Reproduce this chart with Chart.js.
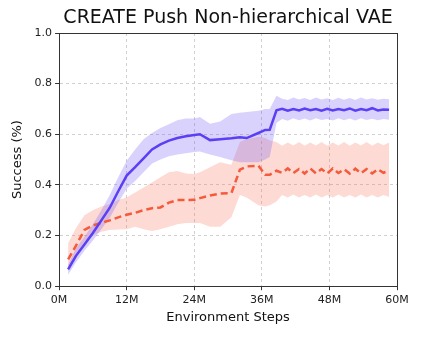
<!DOCTYPE html>
<html>
<head>
<meta charset="utf-8">
<script src="https://cdn.jsdelivr.net/npm/chart.js@4.4.0/dist/chart.umd.min.js"></script>
<style>
html,body{margin:0;padding:0;background:#fff;}
#wrap{width:422px;height:338px;position:relative;}
</style>
</head>
<body>
<div id="wrap"><canvas id="c" width="422" height="338"></canvas></div>
<script>
// Environment steps (millions)
const steps = [1.6, 3, 4.5, 6, 7.5, 9, 10.5, 12, 13.5, 15, 16.5, 18, 19.5, 21, 22.5, 24, 25, 26.8, 28.6, 30.6, 32.1, 33.3, 35.4, 36.6, 37.4, 38.6,
  39.6, 40.6, 41.6, 42.6, 43.6, 44.6, 45.6, 46.6, 47.6, 48.6, 49.6, 50.6, 51.6, 52.6, 53.6, 54.6, 55.6, 56.6, 57.6, 58.6];

// Blue (solid) method
const blueMean = [0.066, 0.12, 0.165, 0.21, 0.26, 0.31, 0.375, 0.437, 0.47, 0.505, 0.54, 0.56, 0.575, 0.585, 0.592, 0.597, 0.6, 0.577, 0.58, 0.584, 0.588, 0.585, 0.605, 0.617, 0.618, 0.695,
  0.701, 0.693, 0.700, 0.694, 0.702, 0.695, 0.700, 0.693, 0.701, 0.694, 0.700, 0.695, 0.702, 0.693, 0.700, 0.695, 0.703, 0.694, 0.698, 0.697];
const blueUpper = [0.085, 0.15, 0.195, 0.245, 0.30, 0.36, 0.43, 0.495, 0.54, 0.58, 0.605, 0.625, 0.64, 0.655, 0.662, 0.662, 0.668, 0.642, 0.65, 0.68, 0.685, 0.688, 0.693, 0.70, 0.70, 0.752,
  0.74, 0.735, 0.745, 0.737, 0.743, 0.735, 0.745, 0.737, 0.742, 0.735, 0.744, 0.736, 0.743, 0.735, 0.745, 0.737, 0.742, 0.736, 0.74, 0.738];
const blueLower = [0.045, 0.095, 0.14, 0.18, 0.225, 0.27, 0.33, 0.385, 0.415, 0.45, 0.485, 0.5, 0.513, 0.52, 0.525, 0.53, 0.532, 0.52, 0.51, 0.497, 0.49, 0.49, 0.49, 0.50, 0.51, 0.645,
  0.66, 0.653, 0.663, 0.655, 0.662, 0.654, 0.663, 0.656, 0.66, 0.654, 0.663, 0.655, 0.662, 0.654, 0.663, 0.656, 0.661, 0.655, 0.66, 0.657];

// Orange (dashed) method
const redMean = [0.106, 0.16, 0.222, 0.24, 0.25, 0.26, 0.272, 0.282, 0.29, 0.3, 0.308, 0.311, 0.33, 0.34, 0.34, 0.341, 0.348, 0.358, 0.366, 0.368, 0.46, 0.473, 0.476, 0.44, 0.44, 0.456,
  0.448, 0.465, 0.447, 0.463, 0.445, 0.465, 0.446, 0.463, 0.445, 0.465, 0.447, 0.462, 0.445, 0.464, 0.446, 0.463, 0.445, 0.462, 0.448, 0.456];
const redUpper = [0.17, 0.23, 0.28, 0.3, 0.315, 0.325, 0.34, 0.35, 0.37, 0.39, 0.41, 0.43, 0.45, 0.455, 0.445, 0.443, 0.45, 0.47, 0.49, 0.48, 0.57, 0.58, 0.59, 0.585, 0.575, 0.57,
  0.555, 0.568, 0.556, 0.57, 0.555, 0.568, 0.556, 0.57, 0.555, 0.568, 0.556, 0.57, 0.555, 0.568, 0.556, 0.57, 0.555, 0.568, 0.557, 0.568];
const redLower = [0.06, 0.12, 0.175, 0.2, 0.215, 0.222, 0.224, 0.225, 0.235, 0.225, 0.218, 0.225, 0.235, 0.245, 0.25, 0.25, 0.25, 0.235, 0.235, 0.272, 0.36, 0.35, 0.32, 0.315, 0.32, 0.335,
  0.36, 0.35, 0.362, 0.35, 0.36, 0.35, 0.362, 0.35, 0.36, 0.35, 0.362, 0.35, 0.36, 0.35, 0.362, 0.35, 0.36, 0.35, 0.36, 0.352];

const xTicks = [0, 12, 24, 36, 48, 60];
const yTicks = [0.0, 0.2, 0.4, 0.6, 0.8, 1.0];
const titleText = 'CREATE Push Non-hierarchical VAE';

const pts = (arr) => arr.map((v, i) => ({x: steps[i], y: v}));

const BLUE = '#5b3ff5';
const BLUE_FILL = 'rgba(110, 90, 245, 0.27)';
const RED = '#f55a3a';
const RED_FILL = 'rgba(250, 120, 95, 0.27)';

const frame = {
  id: 'frame',
  afterDraw(chart) {
    const a = chart.chartArea, ctx = chart.ctx;
    ctx.save();
    ctx.strokeStyle = '#333';
    ctx.lineWidth = 1;
    ctx.strokeRect(Math.round(a.left) + 0.5, Math.round(a.top) + 0.5, Math.round(a.right - a.left), Math.round(a.bottom - a.top));
    ctx.fillStyle = '#111';
    ctx.font = '19px "DejaVu Sans"';
    ctx.textAlign = 'center';
    ctx.textBaseline = 'middle';
    ctx.fillText(titleText, (a.left + a.right) / 2, 18);
    ctx.restore();
  }
};

new Chart(document.getElementById('c'), {
  type: 'line',
  data: {
    datasets: [
      {data: pts(redLower), borderWidth: 0, pointRadius: 0, fill: false, backgroundColor: RED_FILL, order: 5},
      {data: pts(redUpper), borderWidth: 0, pointRadius: 0, fill: '-1', backgroundColor: RED_FILL, order: 5},
      {data: pts(blueLower), borderWidth: 0, pointRadius: 0, fill: false, backgroundColor: BLUE_FILL, order: 4},
      {data: pts(blueUpper), borderWidth: 0, pointRadius: 0, fill: '-1', backgroundColor: BLUE_FILL, order: 4},
      {data: pts(redMean), borderColor: RED, borderWidth: 2.5, borderDash: [7, 4], pointRadius: 0, fill: false, order: 2},
      {data: pts(blueMean), borderColor: BLUE, borderWidth: 2.5, pointRadius: 0, fill: false, order: 1}
    ]
  },
  options: {
    responsive: false,
    animation: false,
    layout: {padding: {left: 10, right: 25, top: 33, bottom: 13}},
    plugins: {
      legend: {display: false},
      tooltip: {enabled: false},
      title: {display: false}
    },
    scales: {
      x: {
        type: 'linear',
        min: 0, max: 60,
        afterBuildTicks: (s) => { s.ticks = xTicks.map(v => ({value: v})); },
        ticks: {
          color: '#222',
          font: {family: 'DejaVu Sans', size: 11},
          padding: 3,
          maxRotation: 0,
          callback: (v) => v + 'M'
        },
        grid: {color: '#d0d0d0', tickColor: '#333', tickLength: 4, tickBorderDash: [0, 0], lineWidth: 1},
        border: {color: '#333', width: 1, dash: [3, 3]},
        title: {display: true, text: 'Environment Steps', color: '#111', font: {family: 'DejaVu Sans', size: 13}, padding: {top: 0, bottom: 0}}
      },
      y: {
        type: 'linear',
        min: 0, max: 1,
        afterBuildTicks: (s) => { s.ticks = yTicks.map(v => ({value: v})); },
        ticks: {
          color: '#222',
          font: {family: 'DejaVu Sans', size: 11},
          padding: 3,
          callback: (v) => v.toFixed(1)
        },
        grid: {color: '#d0d0d0', tickColor: '#333', tickLength: 4, tickBorderDash: [0, 0], lineWidth: 1},
        border: {color: '#333', width: 1, dash: [3, 3]},
        title: {display: true, text: 'Success (%)', color: '#111', font: {family: 'DejaVu Sans', size: 13}, padding: {top: 0, bottom: 6}}
      }
    }
  },
  plugins: [frame]
});
</script>
</body>
</html>
